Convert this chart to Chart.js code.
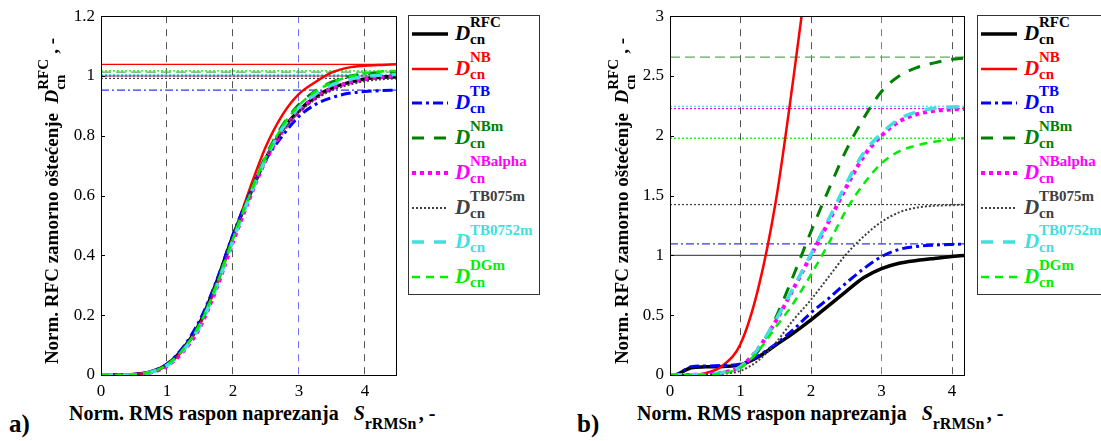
<!DOCTYPE html>
<html>
<head>
<meta charset="utf-8">
<script src="https://cdn.jsdelivr.net/npm/chart.js@4/dist/chart.umd.min.js"></script>
<style>
  body { margin: 0; width: 1101px; height: 441px; background: #fff; position: relative; overflow: hidden;
         font-family: "Liberation Serif", "Times New Roman", serif; }
  canvas { position: absolute; }
  .ytitle { position: absolute; width: 380px; text-align: center; font-weight: bold; font-size: 19px;
            transform: rotate(-90deg); white-space: nowrap; }
  .xtitle { position: absolute; font-weight: bold; font-size: 20px; white-space: nowrap; }
  .panel { position: absolute; font-weight: bold; font-size: 25px; }
  .legend { position: absolute; border: 1px solid #333; background: #fff; }
  .row { position: absolute; left: 0; height: 34px; white-space: nowrap; }
  .row svg { position: absolute; left: 3px; top: 10px; }
  .lab { position: absolute; top: 0; font-weight: bold; }
  .D { font-style: italic; font-size: 21px; position: absolute; top: 4px; }
  .sp { position: absolute; font-size: 15px; left: 15px; top: -3px; }
  .sb { position: absolute; font-size: 15px; left: 15px; top: 14px; }
  .ss { display: inline-block; position: relative; vertical-align: middle; width: 40px; height: 30px; }
  .ss i { font-style: normal; position: absolute; left: 0; font-size: 15px; }
</style>
</head>
<body>
<canvas id="chartA" width="397" height="400" style="left:0;top:0"></canvas>
<canvas id="chartB" width="396" height="400" style="left:569px;top:0"></canvas>

<div class="legend" id="legA" style="left:408px;top:15px;width:130px;height:278px"></div>
<div class="legend" id="legB" style="left:977px;top:15px;width:140px;height:278px"></div>

<div class="ytitle" style="left:-136px;top:186px">Norm. RFC zamorno oštećenje&nbsp;&nbsp;<i>D</i><span class="ss" style="width:36px"><i style="top:-4px">RFC</i><i style="top:13px">cn</i></span>, -</div>
<div class="ytitle" style="left:434px;top:186px">Norm. RFC zamorno oštećenje&nbsp;&nbsp;<i>D</i><span class="ss" style="width:36px"><i style="top:-4px">RFC</i><i style="top:13px">cn</i></span>, -</div>

<div class="xtitle" style="left:69px;top:402px">Norm. RMS raspon naprezanja&nbsp;&nbsp;&nbsp;<i>S</i><span class="ss" style="width:54px;height:20px"><i style="top:10px;font-size:16px">rRMSn</i></span>, -</div>
<div class="xtitle" style="left:637px;top:402px">Norm. RMS raspon naprezanja&nbsp;&nbsp;&nbsp;<i>S</i><span class="ss" style="width:54px;height:20px"><i style="top:10px;font-size:16px">rRMSn</i></span>, -</div>

<div class="panel" style="left:9px;top:410px">a)</div>
<div class="panel" style="left:577px;top:410px">b)</div>

<script>
// ---- podaci (očitano sa slike) ----
const nazivi = ['RFC', 'NB', 'TB', 'NBm', 'NBalpha', 'TB075m', 'TB0752m', 'DGm'];
const xTicks = [0, 1, 2, 3, 4];

// a) graf
const xA = [0, 0.25, 0.5, 0.75, 1, 1.25, 1.5, 1.75, 2, 2.25, 2.5, 2.75, 3, 3.25, 3.5, 3.75, 4, 4.25, 4.47];
const rfcA     = [0, 0, 0.002, 0.01, 0.035, 0.09, 0.175, 0.31, 0.465, 0.6, 0.725, 0.82, 0.885, 0.93, 0.96, 0.978, 0.99, 0.996, 0.999];
const nbA      = [0, 0, 0.002, 0.01, 0.033, 0.085, 0.17, 0.3, 0.46, 0.62, 0.765, 0.87, 0.94, 0.98, 1.012, 1.028, 1.034, 1.037, 1.039];
const tbA      = [0, 0, 0.002, 0.011, 0.037, 0.095, 0.185, 0.315, 0.47, 0.605, 0.72, 0.8, 0.865, 0.905, 0.928, 0.942, 0.948, 0.951, 0.953];
const nbmA     = [0, 0, 0.002, 0.01, 0.034, 0.088, 0.172, 0.305, 0.46, 0.605, 0.735, 0.835, 0.905, 0.95, 0.98, 0.998, 1.007, 1.011, 1.013];
const nbalphaA = [0, 0, 0.001, 0.008, 0.03, 0.08, 0.16, 0.29, 0.445, 0.59, 0.72, 0.815, 0.88, 0.928, 0.958, 0.977, 0.989, 0.996, 0.999];
const tb075mA  = [0, 0, 0.002, 0.01, 0.034, 0.088, 0.172, 0.305, 0.46, 0.598, 0.722, 0.815, 0.878, 0.922, 0.952, 0.97, 0.983, 0.989, 0.992];
const tb0752mA = [0, 0, 0.001, 0.009, 0.032, 0.083, 0.165, 0.295, 0.45, 0.595, 0.725, 0.825, 0.895, 0.94, 0.97, 0.988, 0.998, 1.003, 1.005];
const dgmA     = [0, 0, 0.002, 0.01, 0.034, 0.087, 0.17, 0.3, 0.455, 0.6, 0.73, 0.832, 0.902, 0.948, 0.978, 0.997, 1.009, 1.015, 1.017];
// asimptote (horizontalne linije) za a)
const refA = [1.0, 1.039, 0.953, 1.013, 1.0, 0.992, 1.005, 1.017];

// b) graf
const xB = [0, 0.1, 0.2, 0.3, 0.5, 0.75, 1, 1.25, 1.5, 1.75, 2, 2.25, 2.5, 2.75, 3, 3.25, 3.5, 3.75, 4, 4.17];
const rfcB     = [0, 0.005, 0.035, 0.06, 0.068, 0.072, 0.085, 0.15, 0.25, 0.35, 0.46, 0.58, 0.7, 0.815, 0.89, 0.935, 0.958, 0.975, 0.99, 1.0];
const nbB      = [0, 0, 0, 0.001, 0.015, 0.08, 0.26, 0.72, 1.45, 2.48, 3.6, 4.8, 6, 7, 8, 8.6, 9, 9.3, 9.5, 9.6];
const tbB      = [0, 0.005, 0.04, 0.07, 0.075, 0.08, 0.092, 0.16, 0.26, 0.38, 0.52, 0.64, 0.77, 0.89, 0.99, 1.05, 1.075, 1.086, 1.092, 1.095];
const nbmB     = [0, 0, 0, 0.001, 0.005, 0.02, 0.07, 0.2, 0.48, 0.83, 1.2, 1.55, 1.88, 2.15, 2.37, 2.5, 2.57, 2.61, 2.64, 2.65];
const nbalphaB = [0, 0, 0, 0.001, 0.005, 0.02, 0.07, 0.22, 0.45, 0.72, 1.0, 1.28, 1.57, 1.83, 2.0, 2.12, 2.18, 2.21, 2.22, 2.225];
const tb075mB  = [0, 0, 0, 0.001, 0.002, 0.01, 0.035, 0.12, 0.27, 0.46, 0.63, 0.82, 1.01, 1.16, 1.28, 1.36, 1.4, 1.415, 1.42, 1.425];
const tb0752mB = [0, 0, 0, 0.001, 0.005, 0.02, 0.07, 0.22, 0.46, 0.73, 1.01, 1.3, 1.6, 1.86, 2.02, 2.14, 2.2, 2.23, 2.24, 2.245];
const dgmB     = [0, 0, 0, 0.001, 0.003, 0.015, 0.06, 0.2, 0.4, 0.6, 0.84, 1.1, 1.38, 1.6, 1.77, 1.87, 1.92, 1.95, 1.97, 1.98];
// asimptote za b) (NB je izvan grafa)
const refB = [1.0, null, 1.097, 2.658, 2.228, 1.425, 2.247, 1.98];

// ---- stilovi ----
const stil = [
  { color: '#000000', width: 3.5, dash: [],           refColor: '#555555', refDash: [] },
  { color: '#ff0000', width: 2.5, dash: [],           refColor: '#ff0000', refDash: [] },
  { color: '#0000ff', width: 3,   dash: [10, 4, 3, 4], refColor: '#3333ff', refDash: [8, 3, 2, 3] },
  { color: '#008000', width: 3,   dash: [12, 10],     refColor: '#60a860', refDash: [10, 5] },
  { color: '#ff00ff', width: 4,   dash: [4, 4],       refColor: '#ff00ff', refDash: [2, 2] },
  { color: '#404040', width: 2,   dash: [2, 2],       refColor: '#404040', refDash: [2, 2] },
  { color: '#40e0e0', width: 3.5, dash: [12, 10],     refColor: '#40e0e0', refDash: [2, 2] },
  { color: '#00ee00', width: 2.5, dash: [8, 6],       refColor: '#00ee00', refDash: [2, 2] }
];

function napraviSkupove(x, serije, ref, xMax) {
  const skupovi = [];
  serije.forEach((s, i) => {
    skupovi.push({
      label: nazivi[i],
      data: x.map((v, k) => ({ x: v, y: s[k] })),
      borderColor: stil[i].color,
      borderWidth: stil[i].width,
      borderDash: stil[i].dash,
      pointRadius: 0,
      fill: false,
      cubicInterpolationMode: 'monotone',
      order: 100 - i
    });
    if (ref[i] !== null) {
      skupovi.push({
        label: 'ref ' + nazivi[i],
        data: [{ x: 0, y: ref[i] }, { x: xMax, y: ref[i] }],
        borderColor: stil[i].refColor,
        borderWidth: 1.2,
        borderDash: stil[i].refDash,
        pointRadius: 0,
        fill: false,
        order: 200
      });
    }
  });
  return skupovi;
}

// okvir oko grafa + male crtice na y osi
const okvir = {
  id: 'okvir',
  afterDatasetsDraw(chart) {
    const { ctx, chartArea: a, scales } = chart;
    ctx.save();
    ctx.strokeStyle = '#000';
    ctx.lineWidth = 1;
    ctx.setLineDash([]);
    scales.y.ticks.forEach(t => {
      const py = Math.round(scales.y.getPixelForValue(t.value)) + 0.5;
      ctx.beginPath(); ctx.moveTo(a.left, py); ctx.lineTo(a.left + 4, py); ctx.stroke();
    });
    ctx.strokeRect(Math.round(a.left) + 0.5, Math.round(a.top) + 0.5, Math.round(a.right - a.left), Math.round(a.bottom - a.top));
    ctx.restore();
  }
};

function napraviGraf(id, x, serije, ref, xMax, yMax, yStep) {
  const ctx = document.getElementById(id).getContext('2d');
  return new Chart(ctx, {
    type: 'line',
    data: { datasets: napraviSkupove(x, serije, ref, xMax) },
    options: {
      responsive: false,
      animation: false,
      devicePixelRatio: 1,
      layout: { padding: { top: 15, right: 1, left: 0, bottom: 0 } },
      plugins: { legend: { display: false }, tooltip: { enabled: false } },
      scales: {
        x: {
          type: 'linear', min: 0, max: xMax,
          afterBuildTicks: s => { s.ticks = xTicks.map(v => ({ value: v })); },
          afterFit: s => { s.height = 25; },
          ticks: { padding: 6, color: '#000', font: { family: 'Liberation Serif', size: 17 },
                   callback: v => String(v) },
          grid: {
            drawTicks: false,
            lineWidth: 1,
            color: c => c.tick.value === 0 ? 'rgba(0,0,0,0)' : (c.tick.value === 3 ? '#7070ff' : '#555555')
          },
          border: { display: false, dash: [7, 6] }
        },
        y: {
          min: 0, max: yMax,
          afterFit: s => { s.width = 101; },
          ticks: { stepSize: yStep, padding: 6, color: '#000', font: { family: 'Liberation Serif', size: 17 },
                   callback: v => String(+v.toFixed(2)) },
          grid: { display: false, drawTicks: false },
          border: { display: false }
        }
      }
    },
    plugins: [okvir]
  });
}

napraviGraf('chartA', xA, [rfcA, nbA, tbA, nbmA, nbalphaA, tb075mA, tb0752mA, dgmA], refA, 4.47, 1.2, 0.2);
napraviGraf('chartB', xB, [rfcB, nbB, tbB, nbmB, nbalphaB, tb075mB, tb0752mB, dgmB], refB, 4.17, 3, 0.5);

// ---- legende (HTML, zbog eksponenata i indeksa) ----
function legenda(id) {
  const el = document.getElementById(id);
  nazivi.forEach((n, i) => {
    const row = document.createElement('div');
    row.className = 'row';
    row.style.top = (i * 34.7 + 1) + 'px';
    row.innerHTML =
      '<svg width="40" height="14"><line x1="0" y1="7" x2="36" y2="7" stroke="' + stil[i].color +
      '" stroke-width="' + stil[i].width + '" stroke-dasharray="' + (stil[i].dash.join(' ') || 'none') + '"/></svg>' +
      '<div class="lab" style="left:46px;color:' + stil[i].color + '">' +
      '<span class="D">D</span><span class="sp">' + n + '</span><span class="sb">cn</span></div>';
    el.appendChild(row);
  });
}
legenda('legA');
legenda('legB');
</script>
</body>
</html>
